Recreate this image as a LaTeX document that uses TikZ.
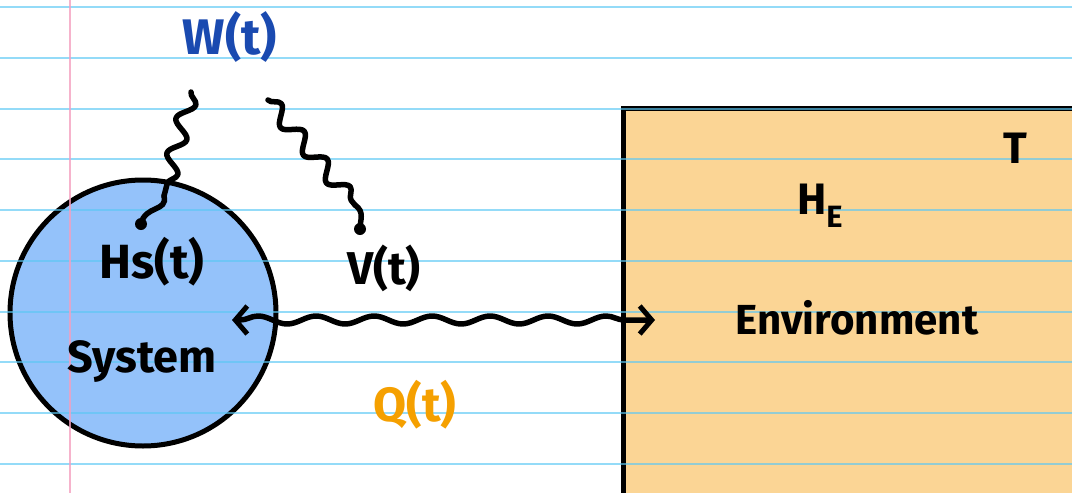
\documentclass[tikz,border=0pt]{standalone}
\usepackage{fontspec}
\setmainfont{Fira Sans}
\usetikzlibrary{decorations.pathmorphing,arrows.meta}
\definecolor{sysblue}{HTML}{94C2FA}
\definecolor{envorange}{HTML}{FBD595}
\definecolor{wblue}{HTML}{1A4AB0}
\definecolor{qorange}{HTML}{F5A000}
\definecolor{ruleblue}{HTML}{5CC8F5}
\definecolor{marginpink}{HTML}{F4A0C0}
\tikzset{
  hand/.style={font=\bfseries\fontsize{44}{48}\selectfont, inner sep=0pt},
  wig/.style={line width=5.5pt, line cap=round, line join=round, decorate,
     decoration={snake, segment length=36pt, amplitude=8pt}},
  hwig/.style={line width=5.5pt, line cap=round, line join=round, decorate,
     decoration={snake, segment length=58pt, amplitude=4pt, pre length=8pt, post length=8pt}},
  dotend/.style={circle, fill=black, inner sep=0pt, minimum size=12pt},
  rule/.style={ruleblue, line width=2pt, opacity=0.65},
}
\begin{document}
\begin{tikzpicture}[x=1pt,y=-1pt]
\useasboundingbox (0,0) rectangle (1072,493);
\clip (0,0) rectangle (1072,493);
\fill[white] (0,0) rectangle (1072,493);
% environment box
\draw[fill=envorange, line width=5pt] (623,108) rectangle (1090,510);
\node[inner sep=0pt] (env) at (850,300) {};
% system circle
\node[circle, draw=black, fill=sysblue, line width=5pt, minimum size=266pt, inner sep=0pt] (sys) at (143,313) {};
% paper rules
\foreach \k in {0,...,9} {
  \draw[rule] (0,{7+50.75*\k}) -- (1072,{7+50.75*\k});
}
\draw[marginpink, line width=2pt, opacity=0.8] (70,0) -- (70,493);
% labels
\node[hand, text=wblue, font=\bfseries\fontsize{50}{54}\selectfont] (W) at (230,37) {W(t)};
\node[hand, font=\bfseries\fontsize{48}{52}\selectfont] (Hs) at (152,262) {Hs(t)};
\node[hand, font=\bfseries\fontsize{46}{50}\selectfont] (V) at (384,268) {V(t)};
\node[hand, font=\bfseries\fontsize{45}{50}\selectfont] (S) at (142,362) {System};
\node[hand, text=qorange, font=\bfseries\fontsize{48}{52}\selectfont] (Q) at (415,405) {Q(t)};
\node[hand] (He) at (820,206) {H\textsubscript{E}};
\node[hand] (T) at (1015,148) {T};
\node[hand, font=\bfseries\fontsize{42}{46}\selectfont] (E) at (857,318) {Environment};
% wavy connectors
\node[dotend] (d1) at (141,224) {};
\node[dotend] (d2) at (360,229) {};
\coordinate (w1top) at (191,92);
\coordinate (w1mid) at (164,196);
\coordinate (w2top) at (268,100);
\coordinate (w2mid) at (355,205);
\draw[wig] (w1top) -- (w1mid);
\draw[line width=5.5pt, line cap=round] (w1mid) .. controls (168,212) and (145,205) .. (d1.center);
\draw[wig] (w2top) -- (w2mid);
\draw[line width=5.5pt, line cap=round] (w2mid) .. controls (365,212) and (360,220) .. (d2.center);
\coordinate (hl) at (232,320);
\coordinate (hr) at (655,320);
\draw[hwig, {Straight Barb[length=12pt,width=28pt,line width=5pt]}-{Straight Barb[length=12pt,width=28pt,line width=5pt]}] (hl) -- (hr);
\end{tikzpicture}
\end{document}
